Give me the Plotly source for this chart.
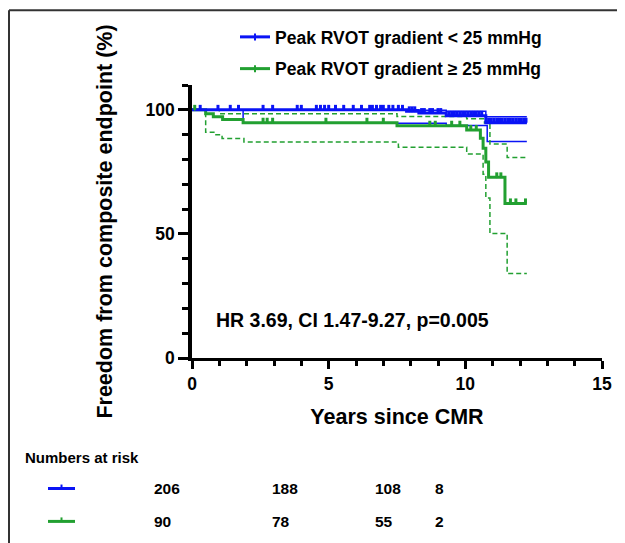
import plotly.graph_objects as go

# ---------------- data ----------------
# Kaplan-Meier: peak RVOT gradient < 25 mmHg (blue)
blue_t = [0, 7.85, 8.3, 9.3, 10.75, 12.25]
blue_s = [100, 99.4, 98.7, 97.6, 94.8, 94.8]
blue_up_t = [0, 8.3, 9.3, 10.75, 12.25]
blue_up_s = [100, 99.8, 99.4, 97.2, 97.2]
blue_lo_t = [0, 1.87, 7.5, 9.3, 10.8, 12.25]
blue_lo_s = [100, 94.8, 94.6, 93.7, 87.2, 87.2]
blue_cens_t = [0.3, 0.95, 1.4, 1.7, 2.6, 2.95, 3.85, 4.0, 4.55, 4.7, 4.85, 5.0,
               5.25, 5.55, 5.9, 6.2, 6.5, 6.6, 6.75, 6.9, 7.0, 7.2, 7.35, 7.55, 7.7,
               7.95, 8.05, 8.15,
               8.4, 8.5, 8.7, 8.8, 9.0, 9.1,
               9.4, 9.5, 9.6, 9.7, 9.8, 9.9, 10.0, 10.1, 10.2, 10.3, 10.4, 10.5, 10.6,
               10.85, 10.95, 11.05, 11.15, 11.25, 11.35, 11.45, 11.55, 11.65, 11.75,
               11.85, 11.95, 12.05, 12.15, 12.22]
blue_cens_s = [100] * 25 + [99.4] * 3 + [98.7] * 6 + [97.6] * 13 + [94.8] * 15

# Kaplan-Meier: peak RVOT gradient >= 25 mmHg (green)
green_t = [0, 0.5, 0.78, 1.12, 1.87, 7.5, 10.05, 10.55, 10.65, 10.75, 10.85, 11.45, 12.25]
green_s = [100, 98.4, 97.2, 96.1, 94.8, 93.6, 91.9, 88.5, 84.5, 79.0, 72.8, 62.3, 62.3]
green_up_t = [0, 1.0, 7.5, 10.05, 10.7, 10.9, 11.53, 12.25]
green_up_s = [100, 98.4, 97.3, 96.4, 94.7, 86.2, 80.8, 80.8]
green_lo_t = [0, 0.5, 0.8, 1.1, 1.9, 7.55, 10.05, 10.65, 10.75, 10.9, 11.53, 12.25]
green_lo_s = [100, 91.0, 90.0, 88.4, 87.0, 84.9, 82.2, 74.0, 64.5, 50.2, 34.0, 34.0]
green_cens_t = [0.1, 2.6, 2.75, 2.95, 4.9, 6.4, 7.0, 8.7, 8.9, 9.5, 9.8, 10.2, 10.4,
                11.15, 11.3, 11.65, 11.85, 12.2]
green_cens_s = [100, 94.8, 94.8, 94.8, 94.8, 94.8, 94.8, 93.6, 93.6, 93.6, 93.6, 91.9, 91.9,
                72.8, 72.8, 62.3, 62.3, 62.3]

series_names = ["Peak RVOT gradient < 25 mmHg", "Peak RVOT gradient \u2265 25 mmHg"]
hr_text = "HR 3.69, CI 1.47-9.27, p=0.005"
risk_title = "Numbers at risk"
risk_blue = [206, 188, 108, 8]
risk_green = [90, 78, 55, 2]

x_ticks = [0, 5, 10, 15]
y_ticks = [0, 50, 100]

# ---------------- style ----------------
BLUE = "#0A14F5"
GREEN = "#22A031"
FONT = "Arial, 'Liberation Sans', sans-serif"
OFF = 8  # page body margin
W, H = 625 - OFF, 543 - OFF
ML, MT = 192 - OFF, 84 - OFF
MR = W - (602 - OFF)
MB = H - (358 - OFF)
PW, PH = W - ML - MR, H - MT - MB


def px(x):
    """page x pixel -> paper coordinate"""
    return (x - OFF - ML) / PW


def py(y):
    """page y pixel -> paper coordinate"""
    return (H - MB - (y - OFF)) / PH


fig = go.Figure()

# confidence bands
fig.add_trace(go.Scatter(x=blue_up_t, y=blue_up_s, mode="lines", line=dict(color=BLUE, width=1.5, shape="hv"), showlegend=False, hoverinfo="skip"))
fig.add_trace(go.Scatter(x=blue_lo_t, y=blue_lo_s, mode="lines", line=dict(color=BLUE, width=1.5, shape="hv"), showlegend=False, hoverinfo="skip"))
fig.add_trace(go.Scatter(x=green_up_t, y=green_up_s, mode="lines", line=dict(color=GREEN, width=1.5, shape="hv", dash="5px,3px"), showlegend=False, hoverinfo="skip"))
fig.add_trace(go.Scatter(x=green_lo_t, y=green_lo_s, mode="lines", line=dict(color=GREEN, width=1.5, shape="hv", dash="5px,3px"), showlegend=False, hoverinfo="skip"))

# survival curves
fig.add_trace(go.Scatter(x=green_t, y=green_s, mode="lines", line=dict(color=GREEN, width=3, shape="hv"), showlegend=False))
fig.add_trace(go.Scatter(x=blue_t, y=blue_s, mode="lines", line=dict(color=BLUE, width=3, shape="hv"), showlegend=False))

# censor marks (upward ticks)
for ct, cs, c in [(green_cens_t, green_cens_s, GREEN), (blue_cens_t, blue_cens_s, BLUE)]:
    fig.add_trace(go.Scatter(
        x=ct, y=cs, mode="markers", marker=dict(size=2, color=c), showlegend=False,
        error_y=dict(type="constant", symmetric=False, value=2.0, valueminus=0,
                     width=0, thickness=3, color=c)))

# legend entries
for name, c, g in [(series_names[0], BLUE, "a"), (series_names[1], GREEN, "b")]:
    fig.add_trace(go.Scatter(
        x=[None], y=[None], mode="lines+markers", name=name, legendgroup=g,
        line=dict(color=c, width=3),
        marker=dict(symbol="line-ns", size=5, line=dict(color=c, width=2))))

annotations = [
    dict(text=hr_text, xref="paper", yref="paper", x=px(214), y=py(320), xanchor="left", yanchor="middle",
         showarrow=False, font=dict(family=FONT, size=19.5, color="black", weight="bold")),
    dict(text=risk_title, xref="paper", yref="paper", x=px(23), y=py(458), xanchor="left", yanchor="middle",
         showarrow=False, font=dict(family=FONT, size=15, color="black", weight="bold")),
]
col_x = [152, 270, 373, 433]
row_y = [489, 522]
for vals, yy in [(risk_blue, row_y[0]), (risk_green, row_y[1])]:
    for v, xx in zip(vals, col_x):
        annotations.append(dict(text=str(v), xref="paper", yref="paper", x=px(xx), y=py(yy),
                                xanchor="left", yanchor="middle", showarrow=False,
                                font=dict(family=FONT, size=15.5, color="black", weight="bold")))

shapes = [
    # outer frame (left and top edges)
    dict(type="line", xref="paper", yref="paper", x0=px(9), x1=px(9), y0=py(9), y1=py(560), line=dict(color="#333", width=2)),
    dict(type="line", xref="paper", yref="paper", x0=px(9), x1=px(640), y0=py(9), y1=py(9), line=dict(color="#333", width=2)),
]
for c, yy in [(BLUE, row_y[0]), (GREEN, row_y[1])]:
    shapes.append(dict(type="line", xref="paper", yref="paper", x0=px(48), x1=px(75), y0=py(yy), y1=py(yy), line=dict(color=c, width=3)))
    shapes.append(dict(type="line", xref="paper", yref="paper", x0=px(61.5), x1=px(61.5), y0=py(yy), y1=py(yy - 4), line=dict(color=c, width=2)))

fig.update_layout(
    width=W, height=H,
    margin=dict(l=ML, r=MR, t=MT, b=MB),
    paper_bgcolor="white", plot_bgcolor="white",
    font=dict(family=FONT, color="black"),
    showlegend=True,
    legend=dict(x=px(235), y=py(19), xanchor="left", yanchor="top", bgcolor="rgba(0,0,0,0)",
                font=dict(family=FONT, size=17.5, color="black", weight="bold"),
                tracegroupgap=6, itemwidth=30),
    annotations=annotations,
    shapes=shapes,
    xaxis=dict(range=[0, 15], tickvals=x_ticks, showline=True, linewidth=3, linecolor="black",
               ticks="outside", ticklen=8, tickwidth=3, tickcolor="black", showgrid=False, zeroline=False,
               minor=dict(dtick=1, ticks="outside", ticklen=5, tickwidth=2.5, tickcolor="black", showgrid=False),
               tickfont=dict(family=FONT, size=17.5, color="black", weight="bold"),
               title=dict(text="Years since CMR", standoff=16,
                          font=dict(family=FONT, size=21.5, color="black", weight="bold"))),
    yaxis=dict(range=[0, 110], tickvals=y_ticks, showline=True, linewidth=3.5, linecolor="black",
               ticks="outside", ticklen=10, tickwidth=3, tickcolor="black", showgrid=False, zeroline=False,
               minor=dict(dtick=10, ticks="outside", ticklen=6, tickwidth=2.5, tickcolor="black", showgrid=False),
               tickfont=dict(family=FONT, size=17.5, color="black", weight="bold"),
               title=dict(text="Freedom from composite endpoint (%)", standoff=28,
                          font=dict(family=FONT, size=21.5, color="black", weight="bold"))),
)

fig.write_html("out.html")
